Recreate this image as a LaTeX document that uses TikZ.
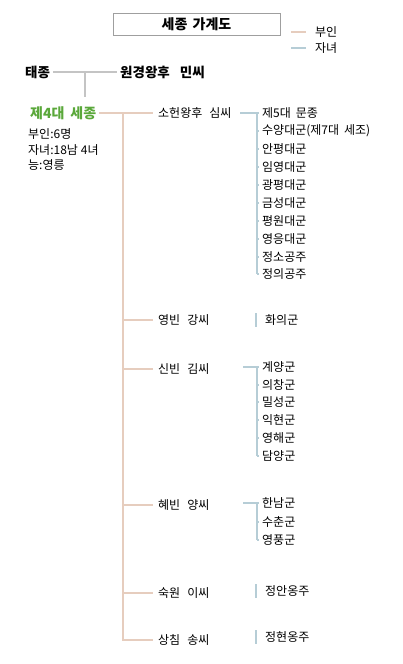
\documentclass[tikz,border=0pt]{standalone}
\usepackage{fontspec}
\setmainfont{Noto Sans CJK KR}
\definecolor{wifecol}{HTML}{E6CDBE}
\definecolor{childcol}{HTML}{B6CDD6}
\definecolor{greycol}{HTML}{C4C4C4}
\definecolor{kinggreen}{HTML}{5AA83A}
\begin{document}
\begin{tikzpicture}[x=1pt,y=-1pt,
  txt/.style={anchor=west,inner xsep=3pt,inner ysep=1pt,font=\fontsize{12}{13}\selectfont},
  boldtxt/.style={txt,font=\fontsize{13.5}{14}\bfseries\selectfont},
  wifetxt/.style={txt,inner xsep=5pt},
  wifeline/.style={draw=wifecol,line width=1.6pt},
  childline/.style={draw=childcol,line width=1.4pt},
  greyline/.style={draw=greycol,line width=1.6pt},
  titlebox/.style={draw=gray!75,line width=0.8pt,minimum width=167pt,minimum height=22pt,font=\fontsize{14}{15}\bfseries\selectfont}]
\useasboundingbox (0,0) rectangle (402,664);
\fill[white] (0,0) rectangle (402,664);
% title and legend
\node[titlebox] (title) at (196.5,24) {세종\hspace{2pt} 가계도};
\coordinate (lg1a) at (291,32); \coordinate (lg1b) at (306,32);
\coordinate (lg2a) at (291,48); \coordinate (lg2b) at (306,48);
\draw[wifeline] (lg1a) -- (lg1b);
\draw[childline] (lg2a) -- (lg2b);
\node[txt] (lgwife) at (312,32) {부인};
\node[txt] (lgchild) at (312,48) {자녀};
% parents
\node[boldtxt] (taejong) at (22,72) {태종};
\node[boldtxt] (wongyeong) at (117,72) {원경왕후\hspace{10pt}민씨};
\draw[greyline] (taejong.east) -- (wongyeong.west);
\coordinate (pmid) at (85,72);
\coordinate (pdown) at (85,97);
\draw[greyline] (pmid) -- (pdown);
% Sejong
\node[boldtxt,text=kinggreen,font=\fontsize{14}{15}\bfseries\selectfont] (sejong) at (27,113) {제4대\hspace{6pt}세종};
\node[txt,inner xsep=1pt] (info1) at (27,134) {부인:6명};
\node[txt,inner xsep=1pt] (info2) at (27,150) {자녀:18남\hspace{3pt}4녀};
\node[txt,inner xsep=1pt] (info3) at (27,165) {능:영릉};
% wives
\node[wifetxt] (w1) at (153,113) {소헌왕후\hspace{7pt}심씨};
\node[wifetxt] (w2) at (153,320) {영빈\hspace{7pt}강씨};
\node[wifetxt] (w3) at (153,369) {신빈\hspace{7pt}김씨};
\node[wifetxt] (w4) at (153,505) {혜빈\hspace{7pt}양씨};
\node[wifetxt] (w5) at (153,593) {숙원\hspace{7pt}이씨};
\node[wifetxt] (w6) at (153,640) {상침\hspace{7pt}송씨};
\draw[wifeline] (sejong.east) -- (w1.west);
\coordinate (sp0) at (123,113);
\coordinate (sp6) at (123,641);
\draw[wifeline] (sp0) -- (sp6);
\foreach \w/\yy in {w2/320,w3/369,w4/505,w5/593,w6/640}{
  \coordinate (sp-\w) at (123,\yy);
  \draw[wifeline] (sp-\w) -- (\w.west);
}
% children of 소헌왕후
\foreach \n/\yy/\t in {1/113/제5대\hspace{5pt}문종,2/131/수양대군(제7대\hspace{5pt}세조),3/149/안평대군,4/167/임영대군,5/185/광평대군,6/203/금성대군,7/221/평원대군,8/239/영응대군,9/257/정소공주,10/274/정의공주}{
  \node[txt] (a\n) at (259,\yy) {\t};
  \coordinate (ta\n) at (257,\yy);
  \draw[childline] (ta\n) -- (a\n.west);
}
\coordinate (ba) at (240,113);
\draw[childline] (ba) -- (a1.west);
\draw[childline] (ta1) -- (ta10);
% 영빈 강씨
\node[txt] (b1) at (262,320) {화의군};
\coordinate (tb1) at (256,313); \coordinate (tb2) at (256,327);
\draw[childline] (tb1) -- (tb2);
% 신빈 김씨
\foreach \n/\yy/\t in {1/367/계양군,2/385/의창군,3/402/밀성군,4/420/익현군,5/438/영해군,6/456/담양군}{
  \node[txt] (c\n) at (259,\yy) {\t};
  \coordinate (tc\n) at (257,\yy);
  \draw[childline] (tc\n) -- (c\n.west);
}
\coordinate (bc) at (243,367);
\draw[childline] (bc) -- (c1.west);
\draw[childline] (tc1) -- (tc6);
% 혜빈 양씨
\foreach \n/\yy/\t in {1/503/한남군,2/522/수춘군,3/540/영풍군}{
  \node[txt] (d\n) at (259,\yy) {\t};
  \coordinate (td\n) at (257,\yy);
  \draw[childline] (td\n) -- (d\n.west);
}
\coordinate (bd) at (243,503);
\draw[childline] (bd) -- (d1.west);
\draw[childline] (td1) -- (td3);
% 숙원 이씨
\node[txt] (e1) at (262,591) {정안옹주};
\coordinate (te1) at (256,584); \coordinate (te2) at (256,598);
\draw[childline] (te1) -- (te2);
% 상침 송씨
\node[txt] (f1) at (262,637) {정현옹주};
\coordinate (tf1) at (256,630); \coordinate (tf2) at (256,644);
\draw[childline] (tf1) -- (tf2);
\end{tikzpicture}
\end{document}
